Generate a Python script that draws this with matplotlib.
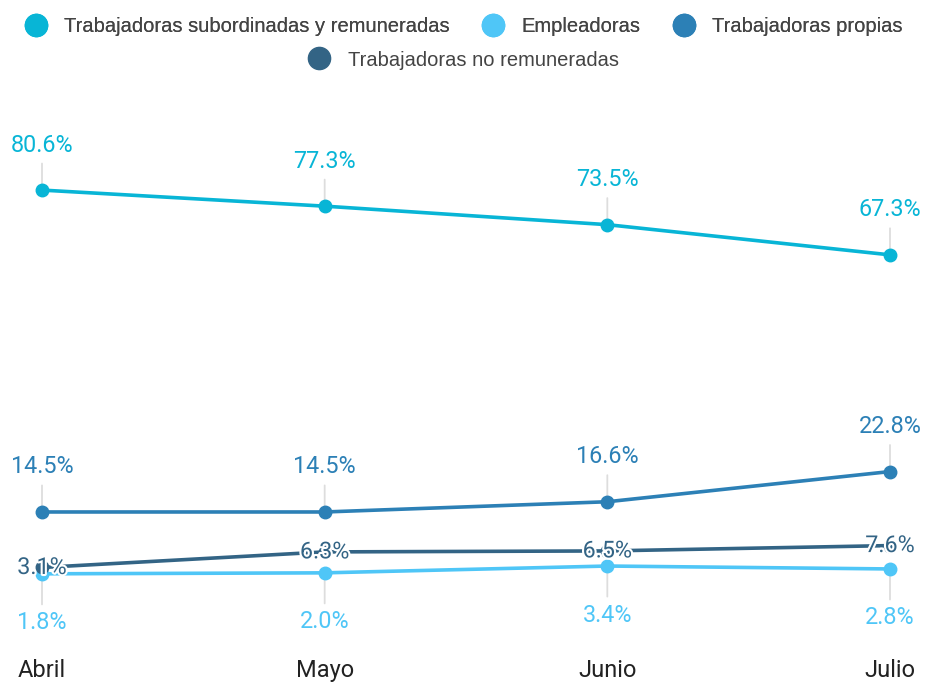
import matplotlib.pyplot as plt
import matplotlib.patheffects as pe
from matplotlib.lines import Line2D

plt.rcParams['font.family'] = ['Roboto', 'DejaVu Sans']

meses = ["Abril", "Mayo", "Junio", "Julio"]
subordinadas = [80.6, 77.3, 73.5, 67.3]
empleadoras = [1.8, 2.0, 3.4, 2.8]
propias = [14.5, 14.5, 16.6, 22.8]
no_remuneradas = [3.1, 6.3, 6.5, 7.6]

nombres = ["Trabajadoras subordinadas y remuneradas", "Empleadoras",
           "Trabajadoras propias", "Trabajadoras no remuneradas"]
colores = ["#08b5d6", "#4fc6f7", "#2c80b6", "#336485"]
# where the value label sits: above, below or centred on the point
posicion = ["arriba", "abajo", "arriba", "centro"]
series = [subordinadas, empleadoras, propias, no_remuneradas]

fig = plt.figure(figsize=(9.25, 6.86), dpi=100)
ax = fig.add_axes([42 / 925, 46 / 686, 848 / 925, 540 / 686])
x = list(range(len(meses)))

for vals, col in zip(series, colores):
    ax.plot(x, vals, color=col, lw=2.6, marker="o", ms=9, clip_on=False,
            zorder=3)

for vals, col, pos in zip(series, colores, posicion):
    for i, v in enumerate(vals):
        txt = f"{v:.1f}%"
        if pos == "centro":
            ax.annotate(txt, (i, v), ha="center", va="center", fontsize=16.8,
                        color=col, zorder=6, annotation_clip=False,
                        path_effects=[pe.withStroke(linewidth=3, foreground="white")])
        else:
            dy = 45 if pos == "arriba" else -49
            ax.annotate(txt, (i, v), xytext=(0, dy), textcoords="offset pixels",
                        ha="center", va="center", fontsize=16.8, color=col,
                        zorder=2, annotation_clip=False,
                        arrowprops=dict(arrowstyle="-", color="#dddddd", lw=1.3,
                                        shrinkA=3, shrinkB=4))

ax.set_xlim(0, 3)
ax.set_ylim(-11.79, 99.1)
ax.set_xticks(x)
ax.set_xticklabels(meses, fontsize=17, color="#222222")
ax.tick_params(axis="x", length=0, pad=14)
ax.set_yticks([])
for s in ax.spines.values():
    s.set_visible(False)

handles = [Line2D([], [], ls="none", marker="o", ms=16, color=c) for c in colores]
kw = dict(loc="center", frameon=False, handlelength=1.3,
          handletextpad=0.75, columnspacing=1.5, labelcolor="#444444",
          prop={"family": "Liberation Sans", "size": 14.5})
leg1 = fig.legend(handles[:3], nombres[:3], ncol=3,
                  bbox_to_anchor=(0.5, 1 - 27 / 686), **kw)
fig.add_artist(leg1)
fig.legend(handles[3:], nombres[3:], ncol=1,
           bbox_to_anchor=(0.5, 1 - 60 / 686), **kw)

fig.savefig("out.png", dpi=100)
